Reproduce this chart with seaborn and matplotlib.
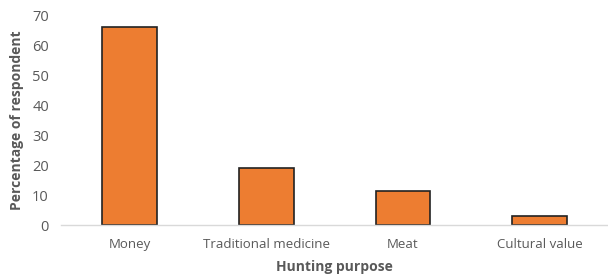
import matplotlib
matplotlib.use("Agg")
import matplotlib.pyplot as plt
import seaborn as sns
import pandas as pd

categories = ["Money", "Traditional medicine", "Meat", "Cultural value"]
values = [66, 19, 11.5, 3.2]
yticks = [0, 10, 20, 30, 40, 50, 60, 70]

sns.set_style("white")
plt.rcParams['font.family'] = ['Open Sans', 'DejaVu Sans']

df = pd.DataFrame({"purpose": categories, "pct": values})

fig = plt.figure(figsize=(6.08, 2.80), dpi=100)
ax = fig.add_axes([0.101, 0.196, 0.899, 0.75])
sns.barplot(data=df, x="purpose", y="pct", color="#ED7D31", width=0.4,
            edgecolor="#222222", linewidth=1.2, saturation=1, ax=ax)
ax.set_ylim(0, 70)
ax.set_xlim(-0.5, 3.5)
ax.set_yticks(yticks)
ax.set_yticklabels([str(t) for t in yticks])
for s in ["top", "right", "left"]:
    ax.spines[s].set_visible(False)
ax.spines["bottom"].set_color("#D9D9D9")
ax.spines["bottom"].set_linewidth(1)
ax.tick_params(axis="both", length=0, colors="#595959")
ax.tick_params(axis="x", pad=9, labelsize=9.5)
ax.tick_params(axis="y", pad=9, labelsize=10.5)
ax.set_xlabel("Hunting purpose", fontsize=10, fontweight="bold", color="#595959", labelpad=7)
ax.set_ylabel("Percentage of respondent", fontsize=10, fontweight="bold", color="#595959", labelpad=6)
fig.savefig("out.png", dpi=100)
